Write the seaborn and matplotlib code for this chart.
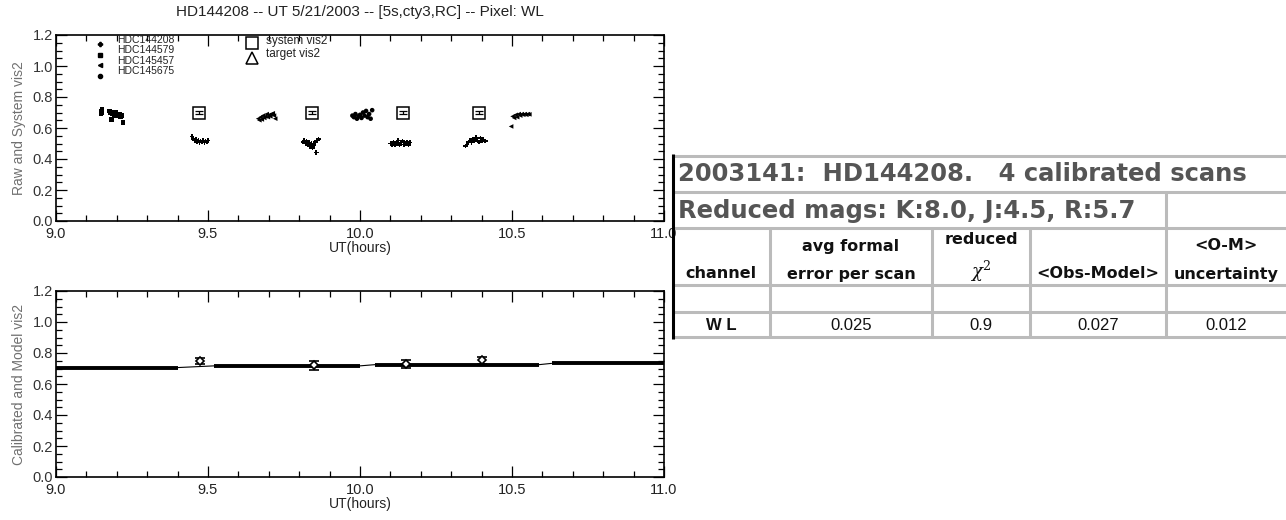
import numpy as np
import pandas as pd
import seaborn as sns
import matplotlib
matplotlib.use("Agg")
import matplotlib.pyplot as plt
from matplotlib.ticker import MultipleLocator, FormatStrFormatter

# ---------------- data ----------------
stars = ["HDC144208", "HDC144579", "HDC145457", "HDC145675"]

# target HDC144208 raw vis2 (four scans)
t_ut = [9.447, 9.452, 9.456, 9.460, 9.464, 9.468, 9.472, 9.476, 9.480, 9.484, 9.488, 9.492, 9.496, 9.500,
        9.812, 9.816, 9.820, 9.824, 9.828, 9.832, 9.836, 9.840, 9.844, 9.848, 9.852, 9.856, 9.860, 9.864,
        10.100, 10.105, 10.110, 10.115, 10.120, 10.125, 10.130, 10.135, 10.140, 10.145, 10.150, 10.155, 10.160, 10.165,
        10.347, 10.352, 10.357, 10.362, 10.367, 10.372, 10.377, 10.382, 10.387, 10.392, 10.397, 10.402, 10.407, 10.412]
t_v = [0.545, 0.530, 0.520, 0.525, 0.510, 0.520, 0.505, 0.515, 0.510, 0.520, 0.505, 0.515, 0.510, 0.520,
       0.510, 0.520, 0.500, 0.515, 0.490, 0.505, 0.480, 0.500, 0.470, 0.490, 0.510, 0.443, 0.520, 0.530,
       0.500, 0.490, 0.510, 0.495, 0.500, 0.520, 0.490, 0.505, 0.515, 0.495, 0.500, 0.510, 0.490, 0.505,
       0.485, 0.495, 0.510, 0.520, 0.505, 0.530, 0.515, 0.540, 0.520, 0.510, 0.535, 0.520, 0.525, 0.515]

# calibrator HDC144579 raw vis2
c1_ut = [9.148, 9.149, 9.150, 9.151, 9.176, 9.180, 9.184, 9.188, 9.192, 9.196, 9.200, 9.204, 9.208, 9.212, 9.216, 9.182, 9.221]
c1_v = [0.690, 0.700, 0.710, 0.720, 0.710, 0.700, 0.690, 0.700, 0.680, 0.700, 0.690, 0.680, 0.690, 0.670, 0.680, 0.653, 0.634]

# calibrator HDC145457 raw vis2
c2_ut = [9.665, 9.669, 9.673, 9.677, 9.681, 9.685, 9.689, 9.693, 9.697, 9.701, 9.705, 9.709, 9.713, 9.717, 9.721,
         10.497, 10.502, 10.507, 10.512, 10.517, 10.522, 10.527, 10.532, 10.537, 10.542, 10.547, 10.552, 10.557]
c2_v = [0.660, 0.650, 0.670, 0.655, 0.680, 0.665, 0.675, 0.690, 0.670, 0.685, 0.675, 0.690, 0.695, 0.680, 0.660,
        0.610, 0.675, 0.665, 0.685, 0.670, 0.690, 0.680, 0.690, 0.685, 0.690, 0.685, 0.690, 0.688]

# calibrator HDC145675 raw vis2
c3_ut = [9.975, 9.980, 9.985, 9.990, 9.995, 10.000, 10.005, 10.010, 10.015, 10.020, 10.025, 10.030, 10.035, 10.040]
c3_v = [0.680, 0.670, 0.690, 0.660, 0.675, 0.685, 0.665, 0.700, 0.680, 0.710, 0.670, 0.690, 0.660, 0.715]

# system vis2 at target scans
sys_ut = [9.470, 9.842, 10.140, 10.390]
sys_v = [0.700, 0.700, 0.700, 0.700]
sys_err = [0.012, 0.012, 0.012, 0.012]

# calibrated target vis2
cal_ut = [9.475, 9.850, 10.150, 10.400]
cal_v = [0.748, 0.720, 0.730, 0.752]
cal_err = [0.018, 0.027, 0.025, 0.022]

# model vis2 segments
mod_start = [9.00, 9.52, 10.05, 10.63]
mod_end = [9.40, 10.00, 10.59, 11.00]
mod_v = [0.706, 0.717, 0.725, 0.733]

# table
table_title = "2003141:  HD144208.   4 calibrated scans"
table_mags = "Reduced mags: K:8.0, J:4.5, R:5.7"
col_heads = [("", "channel"), ("avg formal", "error per scan"), ("reduced", r"$\chi^2$"),
             ("", "<Obs-Model>"), ("<O-M>", "uncertainty")]
row_vals = ["W L", "0.025", "0.9", "0.027", "0.012"]

# ---------------- style ----------------
sns.set_theme(style="ticks")
plt.rcParams["font.family"] = ["Liberation Sans", "DejaVu Sans"]
plt.rcParams["mathtext.fontset"] = "dejavuserif"

W, H = 1286, 520
fig = plt.figure(figsize=(W / 100, H / 100), dpi=100)
fig.patch.set_facecolor("white")


def px_axes(x0, y0, x1, y1):
    return fig.add_axes([x0 / W, 1 - y1 / H, (x1 - x0) / W, (y1 - y0) / H])


def style_axes(ax, ylabel):
    ax.set_xlim(9.0, 11.0)
    ax.set_ylim(0.0, 1.2)
    ax.xaxis.set_major_locator(MultipleLocator(0.5))
    ax.xaxis.set_minor_locator(MultipleLocator(0.1))
    ax.yaxis.set_major_locator(MultipleLocator(0.2))
    ax.yaxis.set_minor_locator(MultipleLocator(0.05))
    ax.xaxis.set_major_formatter(FormatStrFormatter("%.1f"))
    ax.yaxis.set_major_formatter(FormatStrFormatter("%.1f"))
    ax.tick_params(which="both", direction="in", top=True, right=True, colors="black",
                   labelsize=10.5, width=0.9)
    ax.tick_params(which="major", length=8, pad=4)
    ax.tick_params(which="minor", length=4)
    ax.tick_params(axis="x", labelcolor="#222222")
    ax.tick_params(axis="y", labelcolor="#333333", pad=2)
    for s in ax.spines.values():
        s.set_visible(True)
        s.set_color("black")
        s.set_linewidth(1.2)
    ax.set_xlabel("UT(hours)", fontsize=10, color="#222222", labelpad=0)
    ax.set_ylabel(ylabel, fontsize=10, color="#707070", labelpad=5)
    ax.set_facecolor("white")
    ax.grid(False)


# ---------------- top panel ----------------
ax1 = px_axes(56, 35, 664, 221)
raw = pd.concat([
    pd.DataFrame({"ut": t_ut, "v": t_v, "star": stars[0]}),
    pd.DataFrame({"ut": c1_ut, "v": c1_v, "star": stars[1]}),
    pd.DataFrame({"ut": c2_ut, "v": c2_v, "star": stars[2]}),
    pd.DataFrame({"ut": c3_ut, "v": c3_v, "star": stars[3]}),
])
markers = {stars[0]: "P", stars[1]: "s", stars[2]: "<", stars[3]: "o"}
sns.scatterplot(data=raw, x="ut", y="v", style="star", markers=markers, color="black",
                s=11, linewidth=0, edgecolor="black", legend=False, ax=ax1)
ax1.errorbar(sys_ut, sys_v, yerr=sys_err, fmt="none", ecolor="black", elinewidth=0.9,
             capsize=3, capthick=0.9)
ax1.plot(sys_ut, sys_v, linestyle="none", marker="s", markersize=8, markerfacecolor="none",
         markeredgecolor="black", markeredgewidth=1.1)
style_axes(ax1, "Raw and System vis2")
ax1.set_title("HD144208 -- UT 5/21/2003 -- [5s,cty3,RC] -- Pixel: WL", fontsize=11,
              color="#222222", pad=14)

# legend (IDL style, manual)
leg_marks = ["P", "s", "<", "o"]
for i, (name, mk) in enumerate(zip(stars, leg_marks)):
    ax1.plot(0.072, 0.952 - i * 0.057, marker=mk, color="black", markersize=3, linestyle="none",
             transform=ax1.transAxes, clip_on=False)
    ax1.text(0.100, 0.972 - i * 0.055, name, fontsize=7.5, color="#222222", transform=ax1.transAxes,
             va="center", ha="left")
ax1.plot(0.322, 0.955, marker="s", markersize=8, markerfacecolor="none", markeredgecolor="black",
         markeredgewidth=1.1, transform=ax1.transAxes, linestyle="none")
ax1.plot(0.322, 0.878, marker="^", markersize=8, markerfacecolor="none", markeredgecolor="black",
         markeredgewidth=1.1, transform=ax1.transAxes, linestyle="none")
ax1.text(0.345, 0.968, "system vis2", fontsize=8.5, color="#222222", transform=ax1.transAxes,
         va="center", ha="left")
ax1.text(0.345, 0.900, "target vis2", fontsize=8.5, color="#222222", transform=ax1.transAxes,
         va="center", ha="left")

# ---------------- bottom panel ----------------
ax2 = px_axes(56, 291, 664, 477)
ax2.plot([mod_end[0], mod_start[1], mod_end[1], mod_start[2], mod_end[2], mod_start[3]],
         [mod_v[0], mod_v[1], mod_v[1], mod_v[2], mod_v[2], mod_v[3]], color="black", lw=0.8)
ax2.hlines(mod_v, mod_start, mod_end, colors="black", linewidth=2.8)
ax2.errorbar(cal_ut, cal_v, yerr=cal_err, fmt="D", markersize=4.5, markerfacecolor="white",
             markeredgecolor="black", markeredgewidth=1.2, ecolor="black", elinewidth=1.5,
             capsize=3.5, capthick=1.5)
style_axes(ax2, "Calibrated and Model vis2")

# ---------------- table ----------------
axt = px_axes(668, 150, 1286, 345)
axt.set_xlim(668, 1286)
axt.set_ylim(345, 150)
axt.axis("off")
grey = "#bbbbbb"
for y in [156, 192, 228, 285, 312, 337]:
    axt.plot([673, 1286], [y, y], color=grey, lw=2.2, solid_capstyle="butt")
for x in [770, 932, 1030]:
    axt.plot([x, x], [228, 337], color=grey, lw=2.2, solid_capstyle="butt")
axt.plot([1166, 1166], [192, 337], color=grey, lw=2.2, solid_capstyle="butt")
axt.plot([673, 673], [154, 339], color="black", lw=2.2, solid_capstyle="butt")

bold_font = ["DejaVu Sans"]
num_font = ["Liberation Sans", "DejaVu Sans"]
axt.text(678, 174, table_title, fontsize=17.5, fontweight="bold", color="#555555",
         va="center", ha="left", family=bold_font)
axt.text(678, 211, table_mags, fontsize=17.5, fontweight="bold", color="#555555",
         va="center", ha="left", family=bold_font)
col_centers = [721, 851, 981, 1098, 1226]
for cx, (h1, h2) in zip(col_centers, col_heads):
    if h1:
        axt.text(cx, 246 if h1 != "reduced" else 240, h1, fontsize=11.5, fontweight="bold",
                 color="#111111", va="center", ha="center", family=bold_font)
    if h2:
        axt.text(cx, 274 if h2 != r"$\chi^2$" else 271, h2, fontsize=11.5 if h2[0] != "$" else 13,
                 fontweight="bold", color="#111111", va="center", ha="center", family=bold_font)
for i, (cx, val) in enumerate(zip(col_centers, row_vals)):
    axt.text(cx, 325, val, fontsize=12, fontweight="bold" if i == 0 else "normal",
             color="#111111", va="center", ha="center", family=num_font)

fig.savefig("out.png", dpi=100, facecolor="white")
